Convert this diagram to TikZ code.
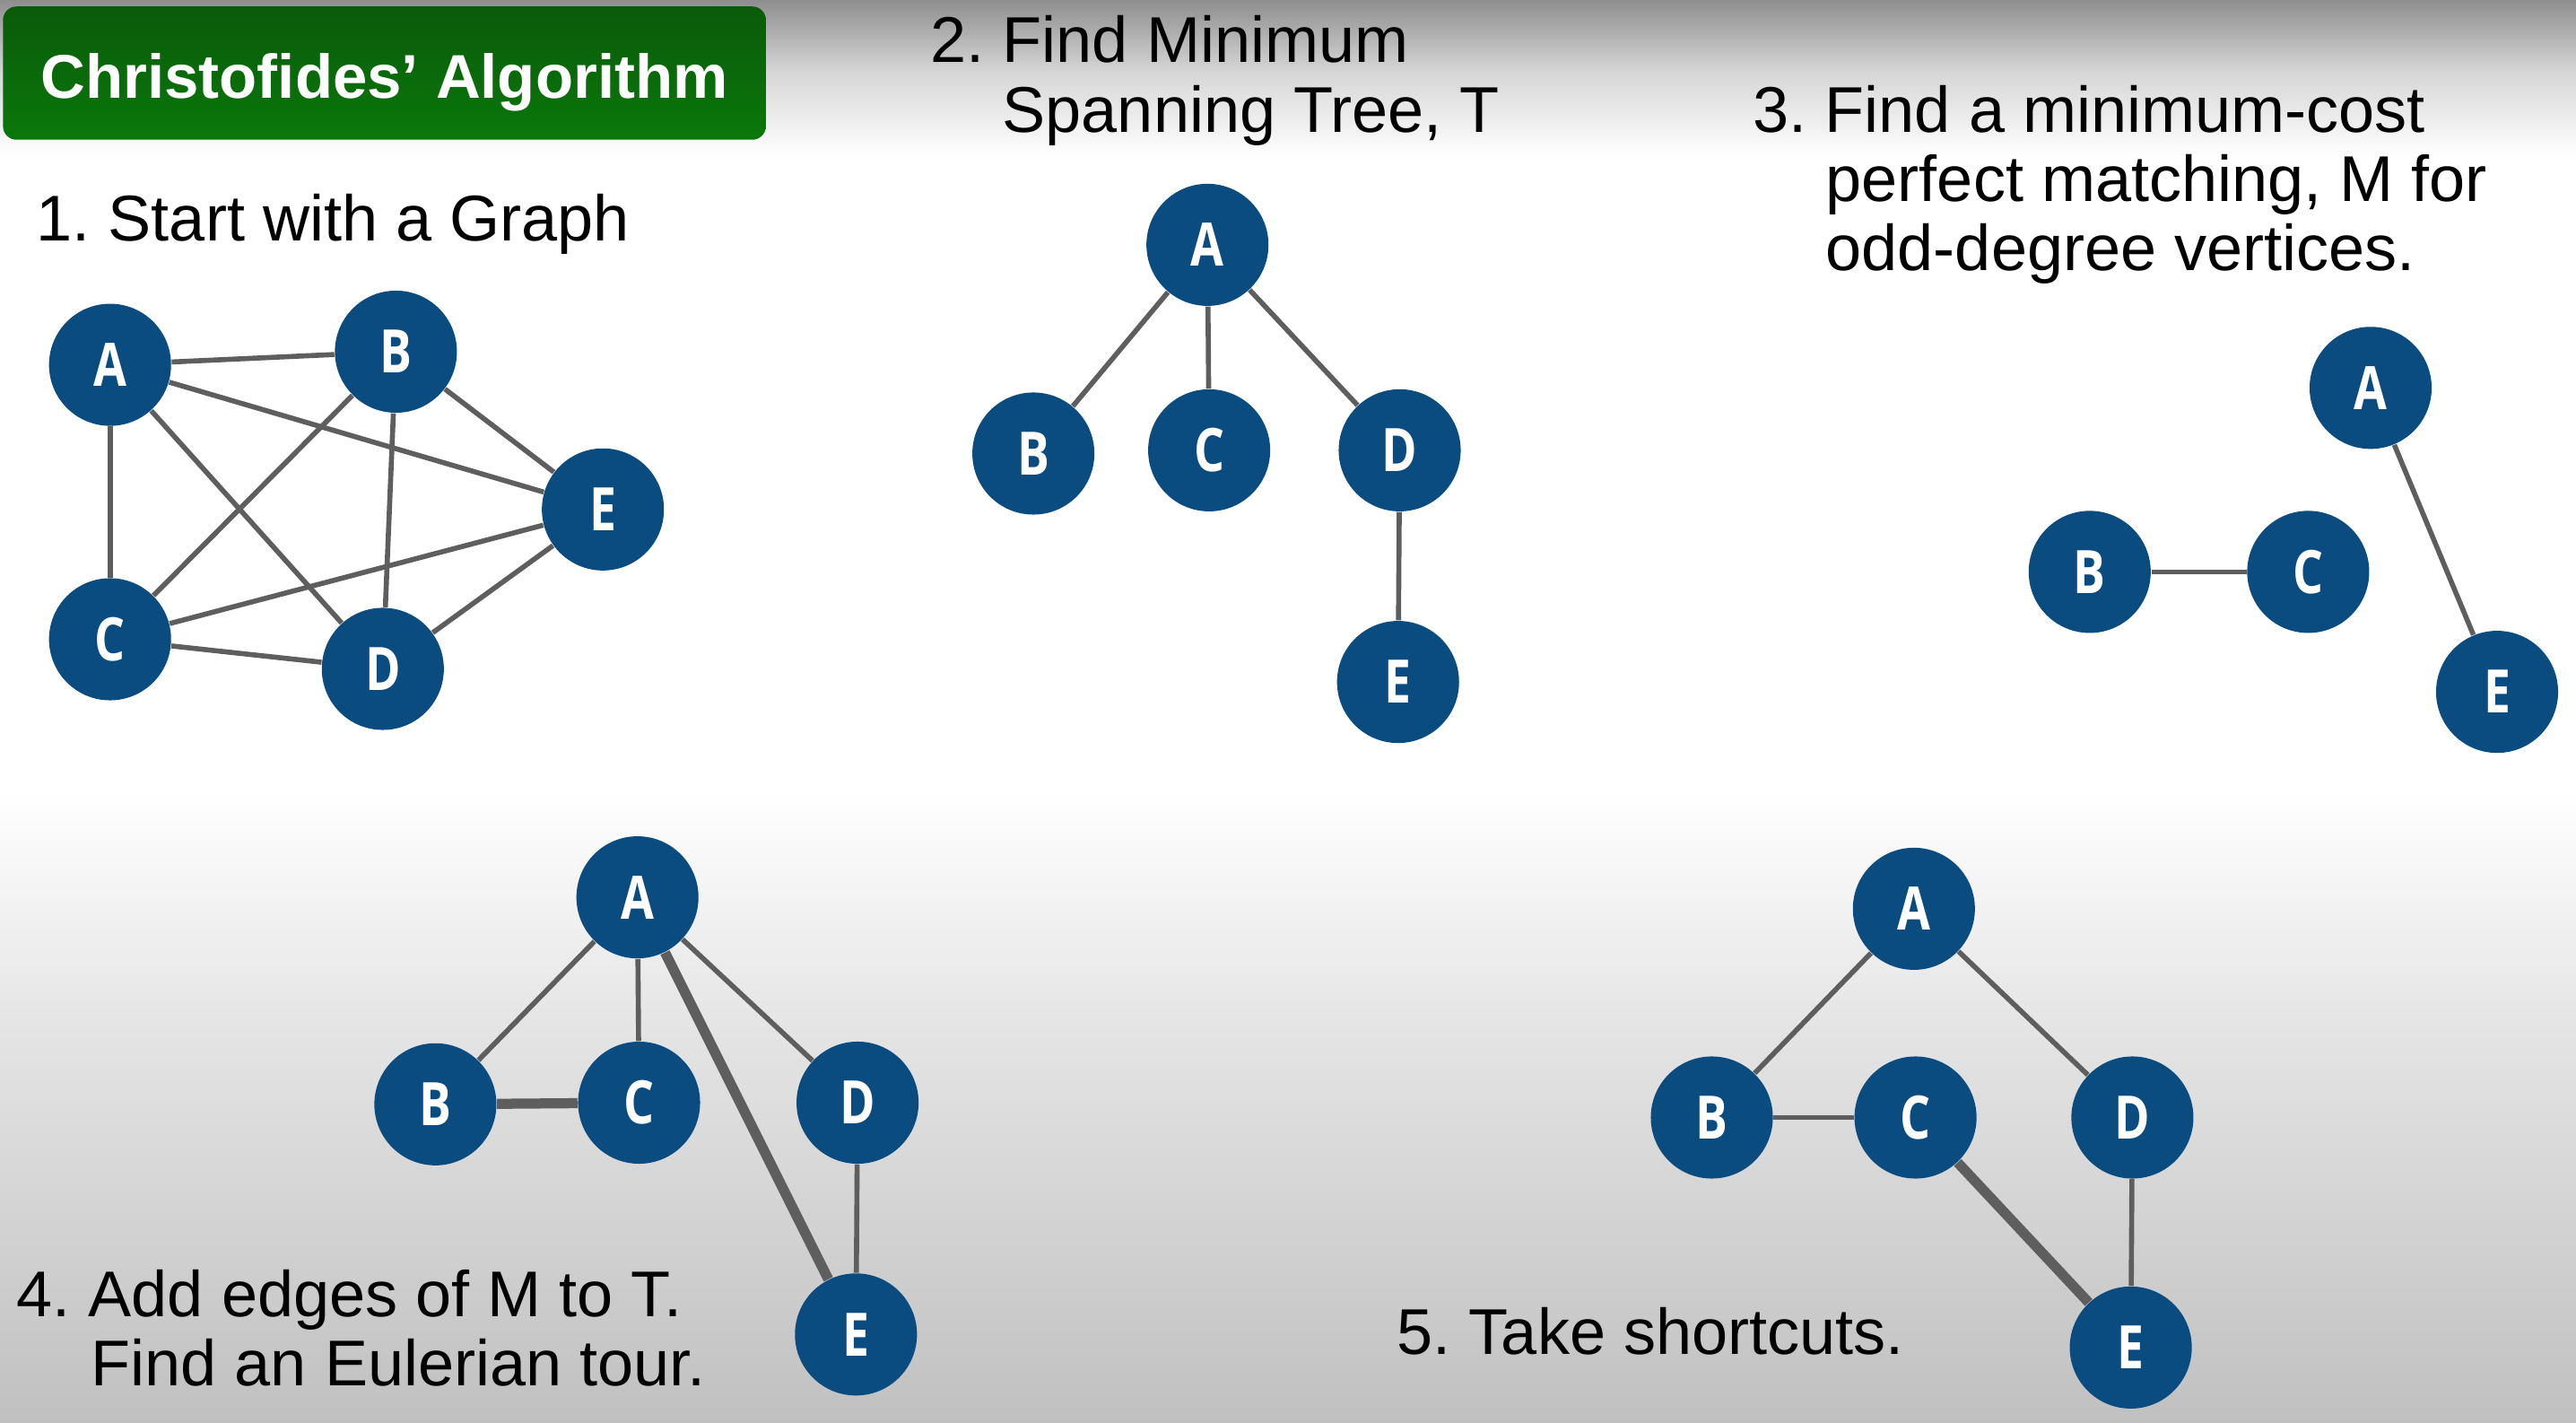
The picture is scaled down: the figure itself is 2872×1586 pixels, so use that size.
\documentclass[tikz,border=0pt]{standalone}
\usepackage{fontspec}
\setmainfont{Liberation Sans}
\newfontfamily\lblfont[FakeStretch=0.8]{Open Sans}
\definecolor{nodeblue}{HTML}{0A4B80}
\definecolor{edgegray}{HTML}{5E5E5E}
\definecolor{greentop}{HTML}{0A5A0A}
\definecolor{greenbot}{HTML}{0A780A}
\definecolor{bgtop}{HTML}{8E8E8E}
\definecolor{bgmidtop}{HTML}{D6D6D6}
\definecolor{bgmid}{HTML}{E4E4E4}
\definecolor{bgbot}{HTML}{C0C0C0}
\frenchspacing
\begin{document}
\begin{tikzpicture}[x=0.01cm,y=-0.01cm,
  vtx/.style={circle,fill=nodeblue,minimum size=1.36cm,inner sep=0pt,text=white,
    font=\lblfont\bfseries\fontsize{19}{19}\selectfont},
  edg/.style={draw=edgegray,line width=1.6pt},
  fat/.style={draw=edgegray,line width=3.2pt},
  lbl/.style={anchor=base west,inner sep=0pt,font=\fontsize{20.5}{24}\selectfont},
  titlebox/.style={rounded corners=0.15cm,top color=greentop,bottom color=greenbot,
    minimum width=8.5cm,minimum height=1.484cm,inner sep=0pt}
]
\useasboundingbox (0,0) rectangle (2872,1586);
% background
\fill[white] (0,0) rectangle (2872,1586);
\shade[top color=bgtop,bottom color=bgmidtop] (0,0) rectangle (2872,80);
\shade[top color=bgmidtop,bottom color=white] (0,80) rectangle (2872,175);
\shade[top color=white,bottom color=bgmid] (0,880) rectangle (2872,1150);
\shade[top color=bgmid,bottom color=bgbot] (0,1150) rectangle (2872,1586);

% title
\node[titlebox] (tbox) at (428.6,81.5) {};
\node[anchor=base,inner sep=0pt,text=white,font=\bfseries\fontsize{19.6}{20}\selectfont] (title) at (428.6,110) {Christofides’ Algorithm};

% texts
\node[lbl] (t1) at (40,269) {1. Start with a Graph};
\node[lbl] (t2a) at (1037,70) {2. Find Minimum};
\node[lbl] (t2b) at (1117,148) {Spanning Tree, T};
\node[lbl] (t3a) at (1954,148) {3. Find a minimum-cost};
\node[lbl] (t3b) at (2035,225) {perfect matching, M for};
\node[lbl] (t3c) at (2035,302) {odd-degree vertices.};
\node[lbl] (t4a) at (18,1467) {4. Add edges of M to T.};
\node[lbl] (t4b) at (101,1544) {Find an Eulerian tour.};
\node[lbl] (t5) at (1557,1509) {5. Take shortcuts.};

% panel 1
\node[vtx] (p1a) at (122.7,406.6) {A};
\node[vtx] (p1b) at (441.4,392.0) {B};
\node[vtx] (p1e) at (672.2,567.8) {E};
\node[vtx] (p1c) at (122.7,712.5) {C};
\node[vtx] (p1d) at (426.8,745.5) {D};
\draw[edg] (p1a) -- (p1b);
\draw[edg] (p1a) -- (p1e);
\draw[edg] (p1a) -- (p1d);
\draw[edg] (p1a) -- (p1c);
\draw[edg] (p1b) -- (p1c);
\draw[edg] (p1b) -- (p1d);
\draw[edg] (p1b) -- (p1e);
\draw[edg] (p1c) -- (p1e);
\draw[edg] (p1c) -- (p1d);
\draw[edg] (p1d) -- (p1e);

% panel 2
\node[vtx] (p2a) at (1346.2,272.9) {A};
\node[vtx] (p2b) at (1152.1,505.5) {B};
\node[vtx] (p2c) at (1348.1,501.9) {C};
\node[vtx] (p2d) at (1560.5,501.9) {D};
\node[vtx] (p2e) at (1558.7,760.1) {E};
\draw[edg] (p2a) -- (p2b);
\draw[edg] (p2a) -- (p2c);
\draw[edg] (p2a) -- (p2d);
\draw[edg] (p2d) -- (p2e);

% panel 3
\node[vtx] (p3a) at (2643.0,432.3) {A};
\node[vtx] (p3b) at (2329.8,637.4) {B};
\node[vtx] (p3c) at (2573.4,637.4) {C};
\node[vtx] (p3e) at (2784.0,771.1) {E};
\draw[edg] (p3b) -- (p3c);
\draw[edg] (p3a) -- (p3e);

% panel 4
\node[vtx] (p4a) at (710.7,1000.1) {A};
\node[vtx] (p4b) at (485.4,1230.8) {B};
\node[vtx] (p4c) at (712.5,1229.0) {C};
\node[vtx] (p4d) at (956.1,1229.0) {D};
\node[vtx] (p4e) at (954.3,1487.3) {E};
\draw[edg] (p4a) -- (p4b);
\draw[edg] (p4a) -- (p4c);
\draw[edg] (p4a) -- (p4d);
\draw[edg] (p4d) -- (p4e);
\draw[fat] (p4b) -- (p4c);
\draw[fat] (p4a) -- (p4e);

% panel 5
\node[vtx] (p5a) at (2133.8,1012.9) {A};
\node[vtx] (p5b) at (1908.5,1245.5) {B};
\node[vtx] (p5c) at (2135.6,1245.5) {C};
\node[vtx] (p5d) at (2377.4,1245.5) {D};
\node[vtx] (p5e) at (2375.6,1501.9) {E};
\draw[edg] (p5a) -- (p5b);
\draw[edg] (p5a) -- (p5d);
\draw[edg] (p5b) -- (p5c);
\draw[edg] (p5d) -- (p5e);
\draw[fat] (p5c) -- (p5e);
\end{tikzpicture}
\end{document}
